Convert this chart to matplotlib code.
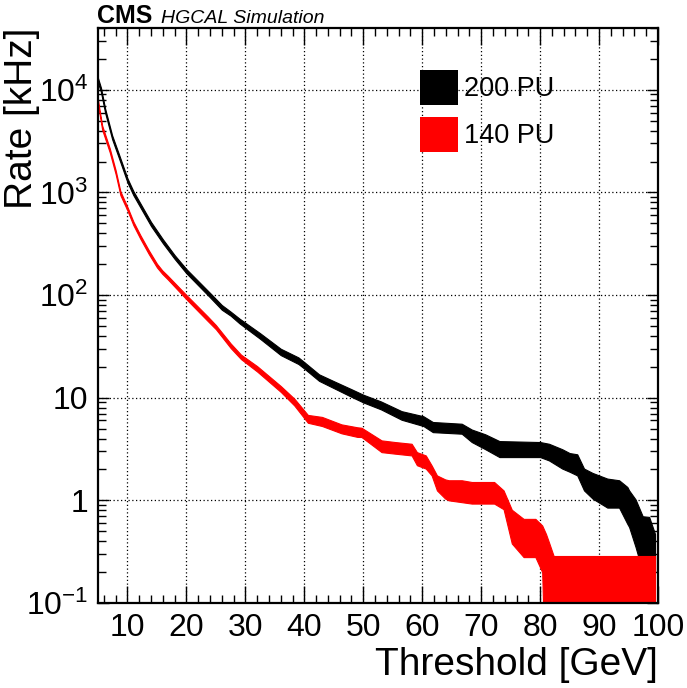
import matplotlib
matplotlib.use('Agg')
import matplotlib.pyplot as plt
from matplotlib.patches import Patch
from matplotlib.ticker import MultipleLocator, LogLocator, NullFormatter, FixedLocator, FixedFormatter

plt.rcParams['font.family'] = ['Liberation Sans', 'DejaVu Sans']
plt.rcParams['mathtext.fontset'] = 'custom'
plt.rcParams['mathtext.rm'] = 'Liberation Sans'
plt.rcParams['mathtext.default'] = 'regular'

# rate bands (kHz), low and high edge of each band
thr_200 = [5.0, 5.5, 6.2, 7.4, 8.5, 10, 11, 13, 14, 16, 18, 20, 24, 26, 27.5, 29,
           32.5, 36, 39, 40, 42.5, 45, 48, 50, 53, 56.5, 60.2, 61.8, 66.7, 68.4, 70.7,
           73.1, 80, 81.5, 83.75, 85, 86.3, 87.45, 88.9, 91.4, 93.4, 94.8, 95.1, 96.2,
           97.4, 98.5, 99.5]
lo_200 = [11700, 9500, 6000, 3300, 2200, 1250, 940, 592, 470, 320, 225, 163, 95, 72, 63, 53,
          37.5, 26, 21.3, 19.2, 14.6, 12.4, 10.2, 9.0, 7.7, 6.1, 5.3, 4.62, 4.46, 3.7, 3.15,
          2.64, 2.64, 2.45, 2.04, 1.9, 1.75, 1.25, 1.04, 0.85, 0.85, 0.59, 0.55, 0.35,
          0.2, 0.2, 0.2]
hi_200 = [13000, 10500, 6600, 3600, 2400, 1370, 1030, 648, 515, 350, 245, 179, 105, 80, 69, 59,
          42.5, 30, 24.7, 22.2, 16.9, 14.5, 12.1, 10.7, 9.2, 7.4, 6.6, 5.8, 5.58, 4.9, 4.4,
          3.78, 3.70, 3.56, 3.15, 2.89, 2.81, 2.04, 1.85, 1.63, 1.57, 1.35, 1.25, 1.02,
          0.70, 0.69, 0.47]

thr_140 = [5.0, 5.7, 7.0, 8, 8.8, 10, 11, 12.2, 13.6, 15, 15.9, 16.8, 20, 23.6, 25, 27.5, 29.25,
           32, 36, 38.3, 40.6, 43, 46.3, 49, 49.7, 53.1, 55.4, 58.2, 59.1, 60.6, 61.6, 62.5,
           63.9, 64.5, 66.7, 68.4, 72.2, 73.8, 75.2, 77.2, 79.2, 80.35, 81.0, 81.5, 82.3, 99.5]
lo_140 = [7200, 4100, 2450, 1500, 940, 665, 480, 352, 252, 186, 161, 143, 91, 56, 46.5, 30.5, 23.8,
          18, 11.4, 8.4, 5.7, 5.3, 4.5, 4.15, 4.14, 2.95, 2.85, 2.74, 2.2, 2.04, 1.75, 1.25,
          1.04, 1.0, 0.96, 0.93, 0.93, 0.82, 0.38, 0.28, 0.28, 0.2, 0.01, 0.01, 0.01, 0.01]
hi_140 = [7900, 4500, 2680, 1640, 1025, 720, 520, 382, 274, 202, 174, 155, 100, 62, 51, 33.8, 26.3,
          20.3, 13.0, 9.8, 6.8, 6.5, 5.5, 5.15, 5.1, 3.84, 3.70, 3.56, 2.95, 2.74, 2.19, 1.75,
          1.6, 1.57, 1.57, 1.51, 1.51, 1.25, 0.81, 0.66, 0.66, 0.57, 0.47, 0.39, 0.287, 0.287]

y_ticks = [0.1, 1, 10, 100, 1000, 10000]
y_tick_labels = ['$10^{-1}$', '1', '10', '$10^{2}$', '$10^{3}$', '$10^{4}$']

W, H = 687, 688
fig = plt.figure(figsize=(W / 100, H / 100), dpi=100)
ax = fig.add_axes([98 / W, 1 - 603 / H, (658 - 98) / W, (603 - 28) / H])

# thin edge line keeps the narrow low-threshold part of the bands visible
ax.fill_between(thr_200, lo_200, hi_200, facecolor='black', edgecolor='black', lw=0.8, zorder=3)
ax.fill_between(thr_140, lo_140, hi_140, facecolor='red', edgecolor='red', lw=0.8, zorder=4)

ax.set_yscale('log')
ax.set_xlim(5, 100)
ax.set_ylim(0.1, 4e4)

ax.xaxis.set_major_locator(MultipleLocator(10))
ax.xaxis.set_minor_locator(MultipleLocator(2))
ax.yaxis.set_major_locator(FixedLocator(y_ticks))
ax.yaxis.set_major_formatter(FixedFormatter(y_tick_labels))
ax.yaxis.set_minor_locator(LogLocator(base=10, subs=range(2, 10)))
ax.yaxis.set_minor_formatter(NullFormatter())

ax.tick_params(axis='both', which='both', direction='in', top=True, right=True,
               width=1.0, labelsize=23, colors='black')
ax.tick_params(axis='x', which='major', length=12, pad=7)
ax.tick_params(axis='x', which='minor', length=5.5)
ax.tick_params(axis='y', which='major', length=8, pad=7)
ax.tick_params(axis='y', which='minor', length=6)

for sp in ax.spines.values():
    sp.set_linewidth(1.6)
    sp.set_zorder(5)

ax.grid(True, which='major', color='black', ls=(0, (1, 2)), lw=0.9)
ax.set_axisbelow(True)

ax.set_xlabel('Threshold [GeV]', fontsize=28, loc='right', labelpad=3)
ax.set_ylabel('Rate [kHz]', fontsize=28, loc='top')
ax.yaxis.set_label_coords((40 - 98) / 560, 1.0)

handles = [Patch(facecolor='black', edgecolor='none', label='200 PU'),
           Patch(facecolor='red', edgecolor='none', label='140 PU')]
leg = ax.legend(handles=handles, loc='upper left', bbox_to_anchor=(420 / W, 1 - 70 / H),
                bbox_transform=fig.transFigure, frameon=False, fontsize=19.5,
                handlelength=1.42, handleheight=1.6, handletextpad=0.2,
                labelspacing=0.45, borderpad=0, borderaxespad=0)

fig.text(97 / W, 1 - 23 / H, 'CMS', fontsize=18, fontweight='bold', ha='left', va='baseline')
fig.text(161 / W, 1 - 23 / H, 'HGCAL Simulation', fontsize=14, style='italic',
         ha='left', va='baseline')

fig.savefig('out.png', dpi=100)
